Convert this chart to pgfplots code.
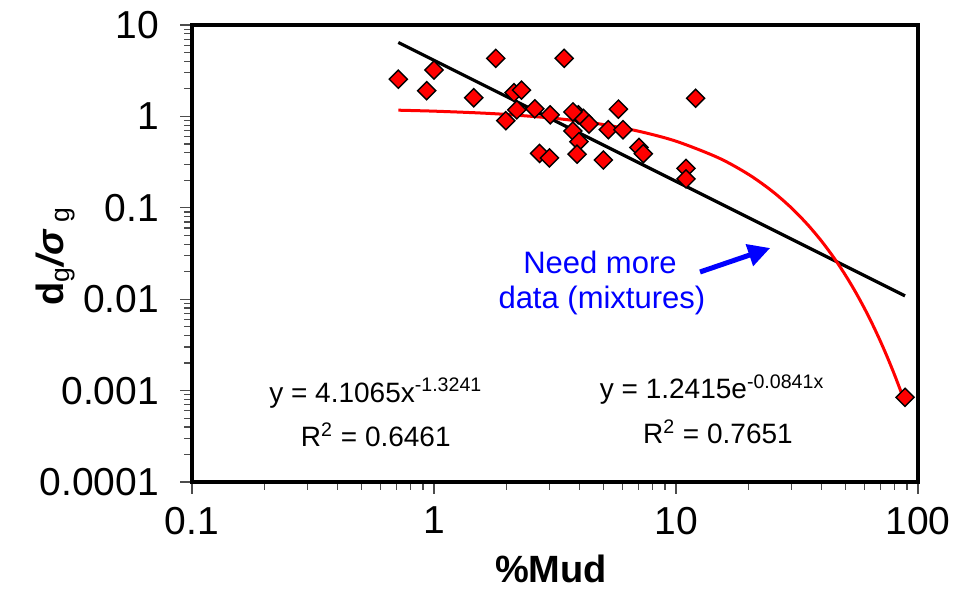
\documentclass[border=0pt]{standalone}
\usepackage{pgfplots}
\pgfplotsset{compat=1.18}
\usepackage{fontspec}
\setmainfont{Liberation Sans}
\usetikzlibrary{calc,arrows.meta}
\definecolor{mred}{RGB}{255,0,0}
\definecolor{mblue}{RGB}{0,0,255}
\begin{document}
\begin{tikzpicture}
\begin{axis}[
  at={(0,0)}, anchor=south west,
  scale only axis, width=363pt, height=228.5pt,
  xmode=log, ymode=log,
  xmin=0.1, xmax=100, ymin=0.0001, ymax=10,
  xtick={0.1,1,10,100}, xticklabels={0.1,1,10,100},
  ytick={0.0001,0.001,0.01,0.1,1,10},
  yticklabels={0.0001,0.001,0.01,0.1,1,10},
  /pgf/number format/assume math mode=true,
  tick align=outside, xtick pos=left, ytick pos=left,
  major tick length=6pt, minor tick length=4pt,
  major tick style={line width=0.6pt, black!70},
  minor tick style={line width=0.6pt, black!70},
  axis line style={line width=1.7pt, black},
  tick label style={font=\fontsize{19.5}{22}\selectfont},
  yticklabel style={xshift=-7pt},
  xticklabel style={yshift=-3pt},
  xlabel={\textbf{\%Mud}},
  ylabel={\textbf{d}\textsubscript{g}\textbf{\textit{/σ}}\textsubscript{ g}},
  xlabel style={font=\fontsize{19}{22}\selectfont, at={(axis description cs:0.4945,-0.19)}, anchor=center},
  ylabel style={font=\fontsize{19}{22}\selectfont, at={(axis description cs:-0.188,0.495)}, anchor=center},
]
\addplot[only marks, mark=square*, mark size=3.2pt,
  mark options={rotate=45, fill=mred, draw=black, line width=0.7pt}]
table[row sep=\\]{
x y\\
0.712 2.55\\
1.00 3.22\\
0.933 1.91\\
1.80 4.32\\
3.45 4.32\\
1.46 1.60\\
2.14 1.82\\
2.30 1.94\\
2.20 1.18\\
1.98 0.897\\
2.61 1.21\\
3.02 1.04\\
3.95 1.04\\
4.14 0.953\\
3.75 1.12\\
3.75 0.692\\
3.97 0.529\\
4.37 0.826\\
5.78 1.20\\
5.25 0.715\\
6.04 0.715\\
2.73 0.393\\
3.00 0.351\\
3.90 0.386\\
5.01 0.333\\
7.03 0.457\\
7.33 0.391\\
11.0 0.270\\
11.0 0.207\\
12.05 1.58\\
88.4 0.000845\\
};
\addplot[black, line width=1.6pt, no marks] coordinates {(0.712,6.44) (88.4,0.01087)};
\addplot[mred, line width=1.5pt, no marks, smooth] coordinates {
(0.712,1.1694) (1,1.1413) (1.5,1.0944) (2,1.0493) (3,0.9647) (4,0.8868)
(5,0.8153) (7,0.6890) (10,0.5355) (15,0.3516) (20,0.2309) (25,0.1516)
(30,0.09959) (35,0.06540) (40,0.04296) (45,0.02821) (50,0.01853)
(55,0.01217) (60,0.007991) (65,0.005248) (70,0.003447) (75,0.002264)
(80,0.001487) (85,0.000976) (88.4,0.000733)};
\node[font=\fontsize{14}{16}\selectfont] at (axis cs:0.575,0.000942) {y = 4.1065x\textsuperscript{-1.3241}};
\node[font=\fontsize{14}{16}\selectfont] at (axis cs:0.575,0.000327) {R\textsuperscript{2} = 0.6461};
\node[font=\fontsize{14}{16}\selectfont] at (axis cs:14.1,0.00102) {y = 1.2415e\textsuperscript{-0.0841x}};
\node[font=\fontsize{14}{16}\selectfont] at (axis cs:14.9,0.000352) {R\textsuperscript{2} = 0.7651};
\node[font=\fontsize{15.5}{18}\selectfont, text=mblue] at (axis cs:4.85,0.0255) {Need more};
\node[font=\fontsize{15.5}{18}\selectfont, text=mblue] at (axis cs:4.94,0.0098) {data (mixtures)};
\draw[mblue, line width=2.5pt, -{Triangle[length=11pt,width=11pt]}] (axis cs:12.57,0.01986) -- (axis cs:24.5,0.0363);
\end{axis}
\pgfresetboundingbox
\path ($(current axis.south west)+(-96pt,-53.5pt)$) rectangle ($(current axis.north east)+(22.5pt,12.5pt)$);
\end{tikzpicture}
\end{document}
